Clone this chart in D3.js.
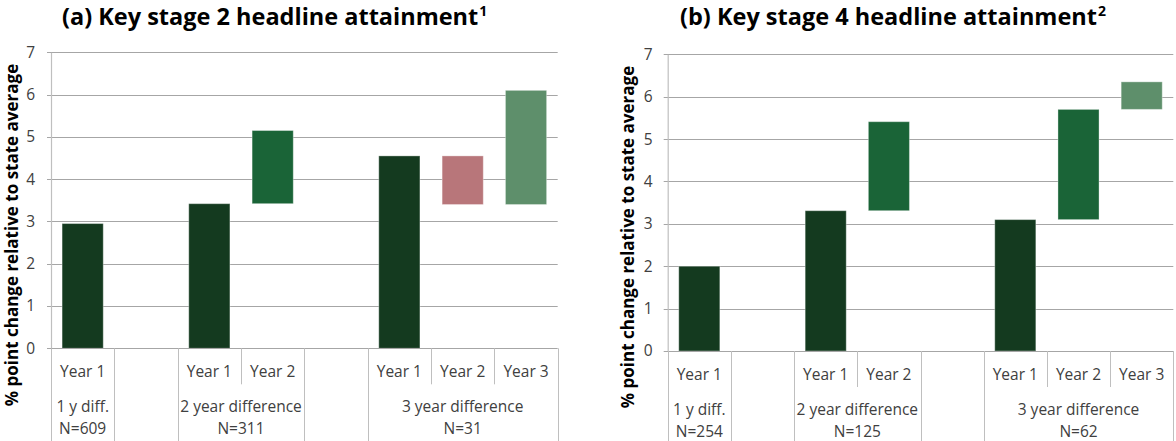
<!DOCTYPE html>
<html>
<head>
<meta charset="utf-8">
<script src="https://cdn.jsdelivr.net/npm/d3@7"></script>
<style>
  html, body { margin: 0; padding: 0; background: #fff; }
  svg { display: block; font-family: "Open Sans", Lato, sans-serif; }
</style>
</head>
<body>
<svg id="chart" width="1176" height="441"></svg>
<script>
// Category slots along the x axis (blank slots separate the groups)
const slotLabels = ["Year 1", "", "Year 1", "Year 2", "", "Year 1", "Year 2", "Year 3"];
// Second-level groups: how many slots each spans, and their first text line
const groupSpans = [1, 1, 2, 1, 3];
const groupLine1 = ["1 y diff.", "", "2 year difference", "", "3 year difference"];

// Key stage 2
const ks2Title = "(a) Key stage 2 headline attainment";
const ks2Note = "1";
const ks2N = ["N=609", "", "N=311", "", "N=31"];
const ks2Low  = [0, null, 0,    3.42, null, 0,    3.40, 3.40];
const ks2High = [2.95, null, 3.42, 5.15, null, 4.55, 4.55, 6.10];
const ks2Kind = ["base", null, "base", "up", null, "base", "down", "up3"];

// Key stage 4
const ks4Title = "(b) Key stage 4 headline attainment";
const ks4Note = "2";
const ks4N = ["N=254", "", "N=125", "", "N=62"];
const ks4Low  = [0, null, 0,    3.31, null, 0,    3.10, 5.70];
const ks4High = [2.00, null, 3.31, 5.41, null, 3.10, 5.70, 6.35];
const ks4Kind = ["base", null, "base", "up", null, "base", "up", "up3"];

const yTicks = [0, 1, 2, 3, 4, 5, 6, 7];
const yLabel = "% point change relative to state average";

const kindColor = {
  base: "#143A1F",
  up:   "#1A6437",
  down: "#B8767A",
  up3:  "#5E8F6B"
};

const svg = d3.select("#chart");

function drawPanel(o) {
  const g = svg.append("g");
  const x = d3.scaleBand().domain(d3.range(slotLabels.length)).range([o.x0, o.x1]).padding(0);
  const y = d3.scaleLinear().domain([0, 7]).range([o.yBottom, o.yTop]);
  const bw = x.bandwidth();

  // horizontal gridlines (with a short outward tick)
  g.append("g").selectAll("line").data(yTicks.filter(d => d > 0)).join("line")
    .attr("x1", o.x0 - 4).attr("x2", o.x1)
    .attr("y1", d => Math.round(y(d)) + 0.5).attr("y2", d => Math.round(y(d)) + 0.5)
    .attr("stroke", "#A6A6A6").attr("stroke-width", 1);

  // y axis
  const yAxis = d3.axisLeft(y).tickValues(yTicks).tickFormat(d3.format("d"))
    .tickSize(0).tickPadding(o.tickPad);
  const ya = g.append("g").attr("transform", `translate(${o.x0},0)`).call(yAxis);
  ya.attr("font-family", null).attr("font-size", null);
  ya.select(".domain").attr("stroke", "#BFBFBF").attr("stroke-width", 1.2);
  ya.selectAll("text").attr("font-size", 15.5).attr("fill", "#404040");

  // bars (floating ranges)
  const bars = d3.range(slotLabels.length).filter(i => o.high[i] != null);
  g.append("g").selectAll("rect").data(bars).join("rect")
    .attr("x", i => x(i) + bw * 0.175)
    .attr("width", bw * 0.65)
    .attr("y", i => y(o.high[i]))
    .attr("height", i => y(o.low[i]) - y(o.high[i]))
    .attr("fill", i => kindColor[o.kind[i]])
    .attr("stroke", "rgba(255,255,255,0.35)")
    .attr("stroke-width", 1);

  // x axis line
  g.append("line").attr("x1", o.x0 - 4).attr("x2", o.x1)
    .attr("y1", Math.round(o.yBottom) + 0.5).attr("y2", Math.round(o.yBottom) + 0.5)
    .attr("stroke", "#A6A6A6");

  // slot separators: full height at group boundaries, short inside groups
  const groupEdges = new Set([0]);
  let acc = 0;
  groupSpans.forEach(s => { acc += s; groupEdges.add(acc); });
  g.append("g").selectAll("line").data(d3.range(slotLabels.length + 1)).join("line")
    .attr("x1", i => Math.round(i < slotLabels.length ? x(i) : o.x1) + 0.5)
    .attr("x2", i => Math.round(i < slotLabels.length ? x(i) : o.x1) + 0.5)
    .attr("y1", o.yBottom)
    .attr("y2", i => groupEdges.has(i) ? 441 : o.yBottom + 36)
    .attr("stroke", "#BFBFBF");

  // first-level labels
  g.append("g").selectAll("text").data(d3.range(slotLabels.length)).join("text")
    .attr("x", i => x(i) + bw / 2)
    .attr("y", o.yBottom + 29)
    .attr("text-anchor", "middle")
    .attr("font-size", 15.5).attr("fill", "#404040")
    .text(i => slotLabels[i]);

  // group labels
  let start = 0;
  const groups = groupSpans.map((s, k) => {
    const gr = { a: start, b: start + s, l1: groupLine1[k], l2: o.n[k] };
    start += s; return gr;
  });
  const gl = g.append("g").selectAll("g").data(groups).join("g")
    .attr("transform", d => `translate(${(x(d.a) + (d.b < slotLabels.length ? x(d.b) : o.x1)) / 2},0)`);
  gl.append("text").attr("y", o.yBottom + 64).attr("text-anchor", "middle")
    .attr("font-size", 15.5).attr("fill", "#404040").text(d => d.l1);
  gl.append("text").attr("y", o.yBottom + 86).attr("text-anchor", "middle")
    .attr("font-size", 15.5).attr("fill", "#404040").text(d => d.l2);

  // y axis title
  g.append("text")
    .attr("transform", `translate(${o.labelX},${o.labelY}) rotate(-90)`)
    .attr("text-anchor", "middle")
    .attr("font-size", 17).attr("font-weight", "bold").attr("fill", "#000")
    .text(yLabel);

  // panel title with superscript note
  const t = g.append("text")
    .attr("x", o.titleX).attr("y", 25)
    .attr("font-size", 23.5).attr("font-weight", "bold").attr("fill", "#000");
  t.append("tspan").text(o.title);
  t.append("tspan").attr("font-size", 14).attr("dy", -9).attr("dx", 1).text(o.note);
}

drawPanel({
  x0: 51, x1: 557.7, yTop: 52.3, yBottom: 348.3, tickPad: 16,
  low: ks2Low, high: ks2High, kind: ks2Kind, n: ks2N,
  title: ks2Title, note: ks2Note, titleX: 62, labelX: 18, labelY: 235
});
drawPanel({
  x0: 667.7, x1: 1173.3, yTop: 54.3, yBottom: 351, tickPad: 15,
  low: ks4Low, high: ks4High, kind: ks4Kind, n: ks4N,
  title: ks4Title, note: ks4Note, titleX: 680, labelX: 634, labelY: 237
});
</script>
</body>
</html>
